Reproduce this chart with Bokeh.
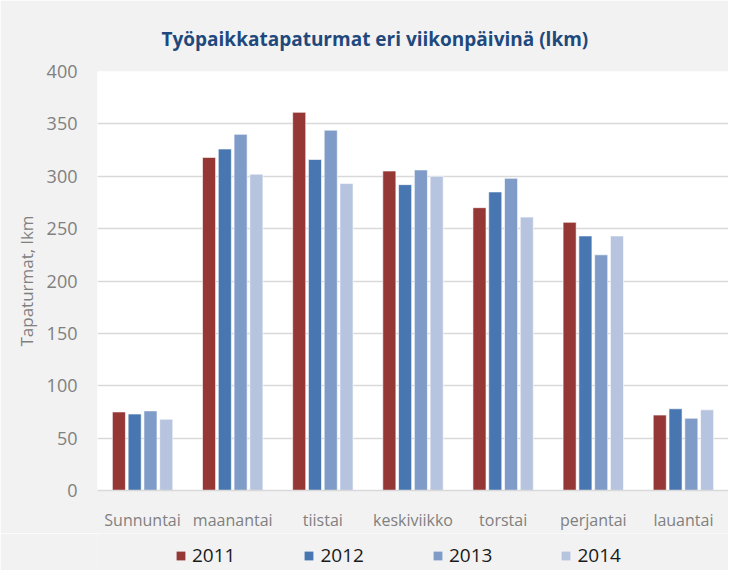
from bokeh.plotting import figure
from bokeh.layouts import column
from bokeh.models import (ColumnDataSource, FactorRange, FixedTicker, Legend, LegendItem)
from bokeh.transform import dodge
from bokeh.embed import file_html
from bokeh.resources import INLINE

days = ["Sunnuntai", "maanantai", "tiistai", "keskiviikko", "torstai", "perjantai", "lauantai"]
years = ["2011", "2012", "2013", "2014"]
y2011 = [75, 318, 361, 305, 270, 256, 72]
y2012 = [73, 326, 316, 292, 285, 243, 78]
y2013 = [76, 340, 344, 306, 298, 225, 69]
y2014 = [68, 302, 293, 300, 261, 243, 77]
y_ticks = [0, 50, 100, 150, 200, 250, 300, 350, 400]
title_text = "Työpaikkatapaturmat  eri viikonpäivinä (lkm)"
y_title = "Tapaturmat, lkm"

colors = ["#953735", "#4776b0", "#7f9cc8", "#b6c4df"]
FONT = "Open Sans"
BG = "#f2f2f2"

source = ColumnDataSource(dict(day=days, y2011=y2011, y2012=y2012, y2013=y2013, y2014=y2014))

p = figure(width=728, height=533, x_range=FactorRange(*days, range_padding=0),
           y_range=(0, 400), output_backend="svg", toolbar_location=None,
           min_border_left=97, min_border_right=0, min_border_top=71, min_border_bottom=34)
p.border_fill_color = BG
p.background_fill_color = "white"
p.outline_line_color = None

p.title.text = title_text
p.title.text_font = FONT
p.title.text_font_size = "19px"
p.title.text_font_style = "bold"
p.title.text_color = "#1f497d"
p.title.align = "left"
p.title.offset = 64
p.title.standoff = 39

step = 0.175
for i, (yr, col) in enumerate(zip(years, colors)):
    off = (i - 1.5) * step
    p.vbar(x=dodge("day", off, range=p.x_range), top="y" + yr, width=0.145, bottom=0,
           source=source, fill_color=col, line_color="white", line_alpha=0.6, line_width=1)

# axes
p.yaxis.ticker = FixedTicker(ticks=y_ticks)
p.yaxis.axis_line_color = None
p.yaxis.major_tick_line_color = None
p.yaxis.minor_tick_line_color = None
p.yaxis.major_label_text_font = FONT
p.yaxis.major_label_text_font_size = "18px"
p.yaxis.major_label_text_color = "#808080"
p.yaxis.major_label_standoff = 14
p.yaxis.axis_label = y_title
p.yaxis.axis_label_text_font = FONT
p.yaxis.axis_label_text_font_size = "17px"
p.yaxis.axis_label_text_font_style = "normal"
p.yaxis.axis_label_text_color = "#808080"
p.yaxis.axis_label_standoff = 6

p.xaxis.axis_line_color = "#d9d9d9"
p.xaxis.axis_line_width = 1.5
p.xaxis.major_tick_line_color = None
p.xaxis.minor_tick_line_color = None
p.xaxis.major_label_text_font = FONT
p.xaxis.major_label_text_font_size = "16px"
p.xaxis.major_label_text_color = "#808080"
p.xaxis.major_label_standoff = 12

p.xgrid.grid_line_color = None
p.ygrid.grid_line_color = "#d9d9d9"
p.ygrid.grid_line_width = 1.5

# legend strip (hidden proxy renderers only supply the legend swatches)
pl = figure(width=728, height=37, x_range=(0, 1), y_range=(0, 1), output_backend="svg",
            toolbar_location=None, x_axis_type=None, y_axis_type=None,
            min_border_left=97, min_border_right=0, min_border_top=0, min_border_bottom=0)
pl.border_fill_color = BG
pl.background_fill_color = BG
pl.outline_line_color = None
pl.xgrid.grid_line_color = None
pl.ygrid.grid_line_color = None
items = []
for yr, col in zip(years, colors):
    r = pl.vbar(x="y" + yr, top="y" + yr, width=0.1, source=source, fill_color=col,
                line_color=None, visible=False)
    items.append(LegendItem(label=yr, renderers=[r]))
legend = Legend(items=items, orientation="horizontal", location=(78, 2), spacing=68,
                glyph_width=11, glyph_height=11, label_standoff=6,
                label_text_font=FONT, label_text_font_size="19px", label_text_color="#1a1a1a",
                border_line_color=None, background_fill_alpha=0, padding=0, margin=0)
pl.add_layout(legend, "center")

open("out.html", "w").write(file_html(column(p, pl, spacing=0), INLINE))
